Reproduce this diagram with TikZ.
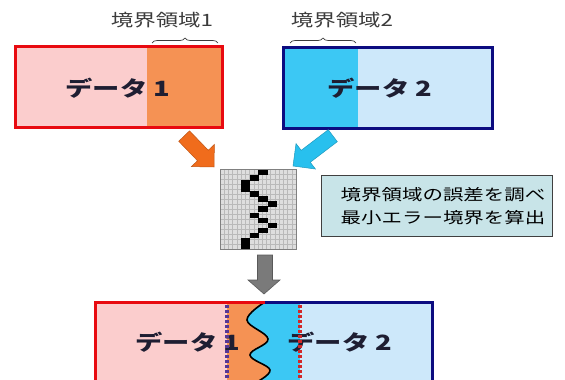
\documentclass[tikz,border=0pt]{standalone}
\usepackage{fontspec}
\newfontfamily\jpbold[FakeStretch=1.3]{Noto Sans CJK JP}
\newfontfamily\jpreg[FakeStretch=1.32]{Noto Sans CJK JP}
\usetikzlibrary{decorations.pathreplacing}
\definecolor{pinkA}{RGB}{251,205,205}
\definecolor{orangeA}{RGB}{245,146,84}
\definecolor{redA}{RGB}{232,10,16}
\definecolor{navyA}{RGB}{12,12,128}
\definecolor{cyanA}{RGB}{60,200,244}
\definecolor{lblueA}{RGB}{205,232,250}
\definecolor{arrO}{RGB}{240,108,28}
\definecolor{arrC}{RGB}{40,192,238}
\definecolor{tealA}{RGB}{200,228,232}
\definecolor{txtA}{RGB}{30,30,50}
\definecolor{lblA}{RGB}{60,60,60}
\definecolor{gridF}{RGB}{222,222,222}
\definecolor{gridL}{RGB}{185,185,185}
\definecolor{purpA}{RGB}{85,55,150}
\definecolor{redD}{RGB}{210,40,40}
\tikzset{
  datatext/.style={font=\jpbold\bfseries\fontsize{21}{21}\selectfont, text=txtA, inner sep=0pt},
  lbltext/.style={font=\jpreg\fontsize{17}{17}\selectfont, text=lblA, inner sep=0pt},
  boxtext/.style={font=\jpreg\fontsize{15.5}{15.5}\selectfont, text=black, inner sep=0pt},
  bracestyle/.style={draw=lblA, line width=0.7pt, decorate, decoration={brace, amplitude=5pt}},
  gridl/.style={draw=gridL, line width=0.4pt},
}
\begin{document}
\begin{tikzpicture}[x=1pt,y=-1pt]
\useasboundingbox (0,0) rectangle (565,380);
\fill[white] (0,0) rectangle (565,380);

% ---- Box 1
\fill[pinkA] (15,46) rectangle (222,127);
\fill[orangeA] (147,46) rectangle (222,127);
\draw[redA, line width=3pt] (15,46) rectangle (222,127);
\node[datatext] (d1) at (118,88) {データ 1};
\node[lbltext] (l1) at (162,20) {境界領域1};
\draw[bracestyle] (152,43) -- (218,43);

% ---- Box 2
\fill[lblueA] (283,47) rectangle (492,128);
\fill[cyanA] (283,47) rectangle (358,128);
\draw[navyA, line width=3pt] (283,47) rectangle (492,128);
\node[datatext] (d2) at (380,88) {データ 2};
\node[lbltext] (l2) at (342,20) {境界領域2};
\draw[bracestyle] (290,43) -- (356,43);

% ---- arrows into grid
\filldraw[fill=arrO, draw=arrO!80!black, line width=0.5pt, shift={(214,167)}, rotate=-46]
  (0,0) -- (-16,16) -- (-16,7.5) -- (-43,7.5) -- (-43,-7.5) -- (-16,-7.5) -- (-16,-16) -- cycle;
\filldraw[fill=arrC, draw=arrC!80!black, line width=0.5pt, shift={(293,166)}, rotate=-142.7]
  (0,0) -- (-16,16) -- (-16,7.5) -- (-50,7.5) -- (-50,-7.5) -- (-16,-7.5) -- (-16,-16) -- cycle;

% ---- grid
\fill[gridF] (220,169) rectangle (296,249);
\foreach \i in {1,...,17} \draw[gridl] ({220+\i*76/18},169) -- ({220+\i*76/18},249);
\foreach \j in {1,...,15} \draw[gridl] (220,{169+\j*5}) -- (296,{169+\j*5});
\draw[gray, line width=0.8pt] (220,169) rectangle (296,249);
\foreach \xa/\ya/\xb/\yb in {
  258/169.5/267.5/175, 249.5/175/258.5/180.5, 240.5/180/249.5/191.5, 249.5/191/258.5/196.5,
  258/196/267.5/201.5, 267.5/201/277/206.5, 258/206/267.5/211.5, 249.5/212.5/258.5/218,
  258/217.5/267.5/223, 267.5/222.5/277/228, 258/227.5/267.5/233, 249.5/232.5/258.5/238,
  240.5/237.5/249.5/248.5}
  \fill[black] (\xa,\ya) rectangle (\xb,\yb);

% ---- explanation box
\node[draw=black!75, line width=0.8pt, fill=tealA, minimum width=231pt, minimum height=61pt, inner sep=0pt] (expl) at (436.5,205.5) {};
\node[boxtext] (e1) at (443,195) {境界領域の誤差を調べ};
\node[boxtext] (e2) at (443,218) {最小エラー境界を算出};

% ---- gray arrow
\filldraw[fill=black!52, draw=black!65, line width=0.6pt]
  (257.5,255) -- (272.5,255) -- (272.5,280) -- (280,280) -- (264,294) -- (248,280) -- (257.5,280) -- cycle;

% ---- bottom merged box
\fill[pinkA] (95,302) rectangle (227,382);
\fill[lblueA] (300,302) rectangle (432,382);
\fill[cyanA] (227,302) rectangle (300,382);
\fill[orangeA] (227,302) -- (265,302) -- plot[smooth, tension=0.65] coordinates {(265,302) (247,320) (268,339) (250,355) (270,370) (255,383)} -- (227,383) -- cycle;
\draw[black, line width=1.6pt] plot[smooth, tension=0.65] coordinates {(265,302) (247,320) (268,339) (250,355) (270,370) (255,383)};
\draw[redA, line width=3pt] (95,383) -- (95,302) -- (265,302);
\draw[navyA, line width=3pt] (265,302) -- (432,302) -- (432,383);
\node[datatext] (d3) at (188,342) {データ 1};
\node[datatext] (d4) at (340,342) {データ 2};
\foreach \k in {0,...,15} {
  \fill[purpA] (225,{304.5+\k*5}) rectangle (229,{307.5+\k*5});
  \fill[redD] (298,{304.5+\k*5}) rectangle (302,{307.5+\k*5});
}
\end{tikzpicture}
\end{document}
